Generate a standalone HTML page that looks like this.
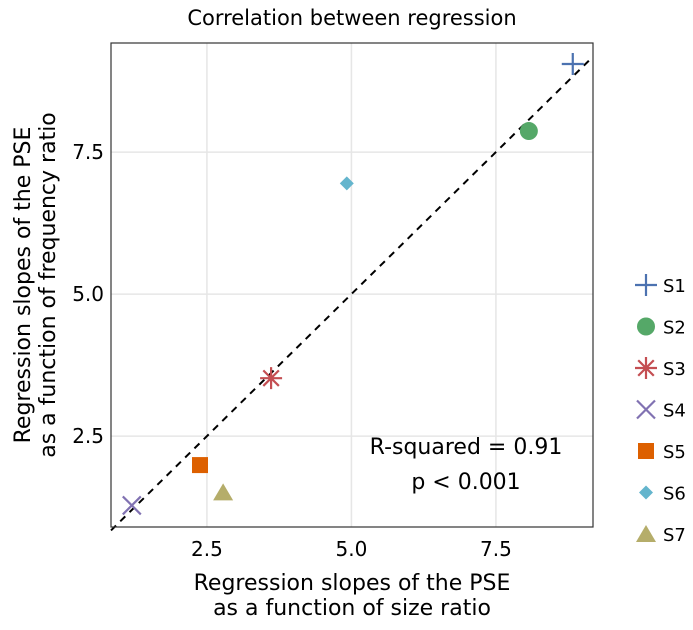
<!DOCTYPE html>
<html><head><meta charset="utf-8"><style>
body{margin:0;background:#fff;font-family:"DejaVu Sans","Liberation Sans",sans-serif}
</style></head><body>
<svg id="chart" width="693" height="626" xmlns="http://www.w3.org/2000/svg" font-family="DejaVu Sans, Liberation Sans, sans-serif">
<text x="352" y="25" text-anchor="middle" font-size="21">Correlation between regression</text>
<g id="grid"></g>
<g id="marks"></g>
<rect x="111" y="43" width="482" height="484" fill="none" stroke="#333" stroke-width="1.2"/>
<g id="ticks"></g>
<text x="352" y="590" text-anchor="middle" font-size="22">Regression slopes of the PSE</text>
<text x="352" y="615" text-anchor="middle" font-size="22">as a function of size ratio</text>
<g transform="translate(30,285) rotate(-90)">
<text x="0" y="0" text-anchor="middle" font-size="22">Regression slopes of the PSE</text>
<text x="0" y="25" text-anchor="middle" font-size="22">as a function of frequency ratio</text>
</g>
<text x="466" y="454" text-anchor="middle" font-size="22">R-squared = 0.91</text>
<text x="466" y="489" text-anchor="middle" font-size="22">p &lt; 0.001</text>
<g id="legend"></g>
</svg>
<script>
const names=["S1","S2","S3","S4","S5","S6","S7"];
const xVals=[8.83,8.07,3.61,1.20,2.38,4.92,2.78];
const yVals=[9.05,7.87,3.52,1.28,1.99,6.95,1.51];
const xTicks=[2.5,5.0,7.5];
const yTicks=[2.5,5.0,7.5];
const colors=["#4c72b0","#55a868","#c44e52","#8172b2","#dd6000","#64b5cd","#b5ad6a"];
const shapes=["plus","circle","star","cross","square","diamond","triangle"];
const X0=111,X1=593,Y0=43,Y1=527;
const xMin=0.84,xMax=9.18,yMin=0.90,yMax=9.42;
const sx=v=>X0+(v-xMin)/(xMax-xMin)*(X1-X0);
const sy=v=>Y1-(v-yMin)/(yMax-yMin)*(Y1-Y0);
const NS="http://www.w3.org/2000/svg";
function mk(t,a,p){const e=document.createElementNS(NS,t);for(const k in a)e.setAttribute(k,a[k]);p.appendChild(e);return e;}
const grid=document.getElementById('grid'),ticks=document.getElementById('ticks');
xTicks.forEach(v=>{
 const l=mk('line',{x1:sx(v),x2:sx(v),y1:Y0,y2:Y1,stroke:'#e6e6e6','stroke-width':1.5},grid);
 
 
 const t=mk('text',{x:sx(v),y:556,'text-anchor':'middle','font-size':20},ticks);t.textContent=v.toFixed(1);
 
 
});
yTicks.forEach(v=>{
 const l=mk('line',{x1:X0,x2:X1,y1:sy(v),y2:sy(v),stroke:'#e6e6e6','stroke-width':1.5},grid);
 
 
 const t=mk('text',{x:104,y:sy(v)+7,'text-anchor':'end','font-size':20},ticks);t.textContent=v.toFixed(1);
 
 
});
const marks=document.getElementById('marks');
const lo=Math.max(xMin,yMin),hi=Math.min(xMax,yMax);
const dl=mk('line',{x1:sx(xMin),y1:sy(xMin),x2:sx(hi),y2:sy(hi),stroke:'#000','stroke-width':2,'stroke-dasharray':'7,6'},marks);


function shape(s,cx,cy,c,g,r){
 r=r||9;
 if(s==='plus'){mk('path',{d:`M${cx-r-2},${cy}H${cx+r+2}M${cx},${cy-r-2}V${cy+r+2}`,stroke:c,'stroke-width':2.2,fill:'none'},g);}
 else if(s==='circle'){mk('circle',{cx,cy,r:r,fill:c},g);}
 else if(s==='star'){let d='';for(let i=0;i<4;i++){const a=i*Math.PI/4;d+=`M${cx-Math.sin(a)*(r+2)},${cy-Math.cos(a)*(r+2)}L${cx+Math.sin(a)*(r+2)},${cy+Math.cos(a)*(r+2)}`;}mk('path',{d,stroke:c,'stroke-width':2.2,fill:'none'},g);}
 else if(s==='cross'){mk('path',{d:`M${cx-r},${cy-r}L${cx+r},${cy+r}M${cx-r},${cy+r}L${cx+r},${cy-r}`,stroke:c,'stroke-width':2.2,fill:'none'},g);}
 else if(s==='square'){mk('rect',{x:cx-8,y:cy-8,width:16,height:16,fill:c},g);}
 else if(s==='diamond'){mk('path',{d:`M${cx},${cy-7}L${cx+7},${cy}L${cx},${cy+7}L${cx-7},${cy}Z`,fill:c},g);}
 else if(s==='triangle'){mk('path',{d:`M${cx},${cy-9}L${cx+10},${cy+8}L${cx-10},${cy+8}Z`,fill:c},g);}
}
names.forEach((n,i)=>{
 const g=mk('g',{},marks);
 
 
 shape(shapes[i],sx(xVals[i]),sy(yVals[i]),colors[i],g);
});
const leg=document.getElementById('legend');
names.forEach((n,i)=>{
 const y=285+i*41.5;
 const g=mk('g',{},leg);
 
 
 shape(shapes[i],646,y,colors[i],g);
 const t=mk('text',{x:663,y:y+7,'font-size':18},g);t.textContent=n;
});
</script>
</body></html>
